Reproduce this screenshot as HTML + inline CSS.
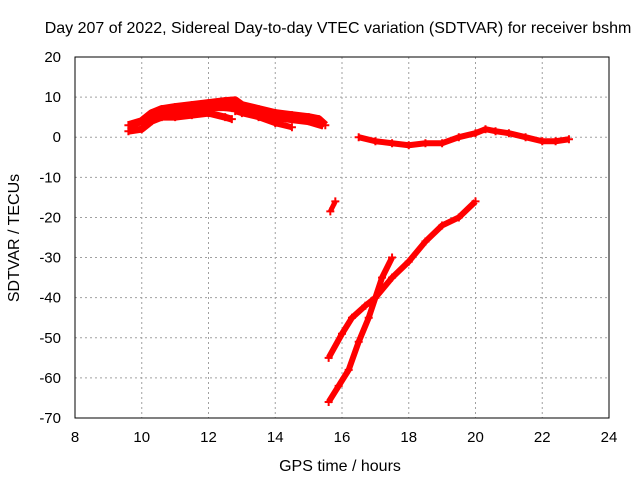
<!DOCTYPE html>
<html><head><meta charset="utf-8"><style>
html,body{margin:0;padding:0;background:#fff;}
svg text{font-family:"Liberation Sans",sans-serif;font-size:16px;fill:#000;}
svg text.tk{font-size:15px;}
</style></head><body>
<svg id="chart" width="640" height="480" viewBox="0 0 640 480" xmlns="http://www.w3.org/2000/svg">
<rect width="640" height="480" fill="#fff"/>
<text x="338" y="33" text-anchor="middle">Day 207 of 2022, Sidereal Day-to-day VTEC variation (SDTVAR) for receiver bshm</text>
<text x="340" y="471" text-anchor="middle">GPS time / hours</text>
<text transform="translate(19,238) rotate(-90)" text-anchor="middle">SDTVAR / TECUs</text>
<g id="grid"></g><g id="axes"></g><g id="marks"></g>
</svg>
<script>
const xTicks=[8,10,12,14,16,18,20,22,24];
const yTicks=[20,10,0,-10,-20,-30,-40,-50,-60,-70];
const dayUpperX=[9.6,10,10.3,10.6,11,11.5,12,12.5,12.8,13,13.5,14,14.5,15,15.3,15.5];
const dayUpperY=[3,4,6,7,7.5,8,8.5,9,9.2,8,7,6,5.5,5,4.5,3];
const dayMidX=[10.2,10.6,11,11.5,12,12.5,13,13.5,14,14.5,15,15.4];
const dayMidY=[4.5,6,6.5,7,7.5,7.5,7,6,5,4.5,4,3];
const dayLowerX=[9.6,10,10.3,10.6,11,11.5,12,12.5,12.7];
const dayLowerY=[1.5,2,4,5,5,5.5,6,5,4.5];
const dayLower2X=[12.8,13,13.5,14,14.5];
const dayLower2Y=[6.5,6,5,3.5,2.5];
const shortX=[15.65,15.8];
const shortY=[-18.5,-16];
const nightX=[16.5,17,17.5,18,18.5,19,19.5,20,20.3,20.6,21,21.5,22,22.4,22.8];
const nightY=[0,-1,-1.5,-2,-1.5,-1.5,0,1,2,1.5,1,0,-1,-1,-0.5];
const riseAX=[15.6,16,16.3,16.7,17,17.5,18,18.5,19,19.5,20];
const riseAY=[-55,-49,-45,-42,-40,-35,-31,-26,-22,-20,-16];
const riseBX=[15.6,15.9,16.2,16.5,16.8,17,17.2,17.5];
const riseBY=[-66,-62,-58,-51,-45,-40,-35,-30];
const L=75,R=609,T=57,B=418;
const xs=v=>L+(v-8)/16*(R-L);
const ys=v=>T+(20-v)/90*(B-T);
const NS="http://www.w3.org/2000/svg";
function mk(t,a,p){const e=document.createElementNS(NS,t);for(const k in a)e.setAttribute(k,a[k]);p.appendChild(e);return e;}
const grid=document.getElementById('grid'),axes=document.getElementById('axes'),marks=document.getElementById('marks');
xTicks.forEach(v=>{
 const x=xs(v);
 if(v>8&&v<24){const g=mk('line',{x1:x,x2:x,y1:T,y2:B,stroke:'#a0a0a0','stroke-dasharray':'2,3'},grid);
 
 }
 const t=mk('text',{x:x,y:B+24,'text-anchor':'middle','class':'tk'},axes);t.textContent=v;
 
 
});
yTicks.forEach(v=>{
 const y=ys(v);
 if(v<20&&v>-70){const g=mk('line',{x1:L,x2:R,y1:y,y2:y,stroke:'#a0a0a0','stroke-dasharray':'2,3'},grid);
 
 }
 const t=mk('text',{x:L-14,y:y+5,'text-anchor':'end','class':'tk'},axes);t.textContent=v;
 
 
});
const fr=mk('rect',{x:L,y:T,width:R-L,height:B-T,fill:'none',stroke:'#000'},axes);


function series(X,Y,w,name){
 const g=mk('g',{},marks);
 
 
 const d=X.map((x,i)=>(i?'L':'M')+xs(x)+','+ys(Y[i])).join('');
 mk('path',{d:d,fill:'none',stroke:'#f00','stroke-width':w,'stroke-linejoin':'round'},g);
 X.forEach((x,i)=>{const cx=xs(x),cy=ys(Y[i]);
  mk('path',{d:`M${cx-4},${cy}H${cx+4}M${cx},${cy-4}V${cy+4}`,stroke:'#f00','stroke-width':2},g);});
}
series(dayUpperX,dayUpperY,8,'series-day-upper');
series(dayMidX,dayMidY,8,'series-day-mid');
series(dayLowerX,dayLowerY,7,'series-day-lower');
series(dayLower2X,dayLower2Y,6,'series-day-lower-2');
series(shortX,shortY,5,'series-short');
series(nightX,nightY,6,'series-night');
series(riseAX,riseAY,6,'series-rise-a');
series(riseBX,riseBY,6,'series-rise-b');
</script>
</body></html>
